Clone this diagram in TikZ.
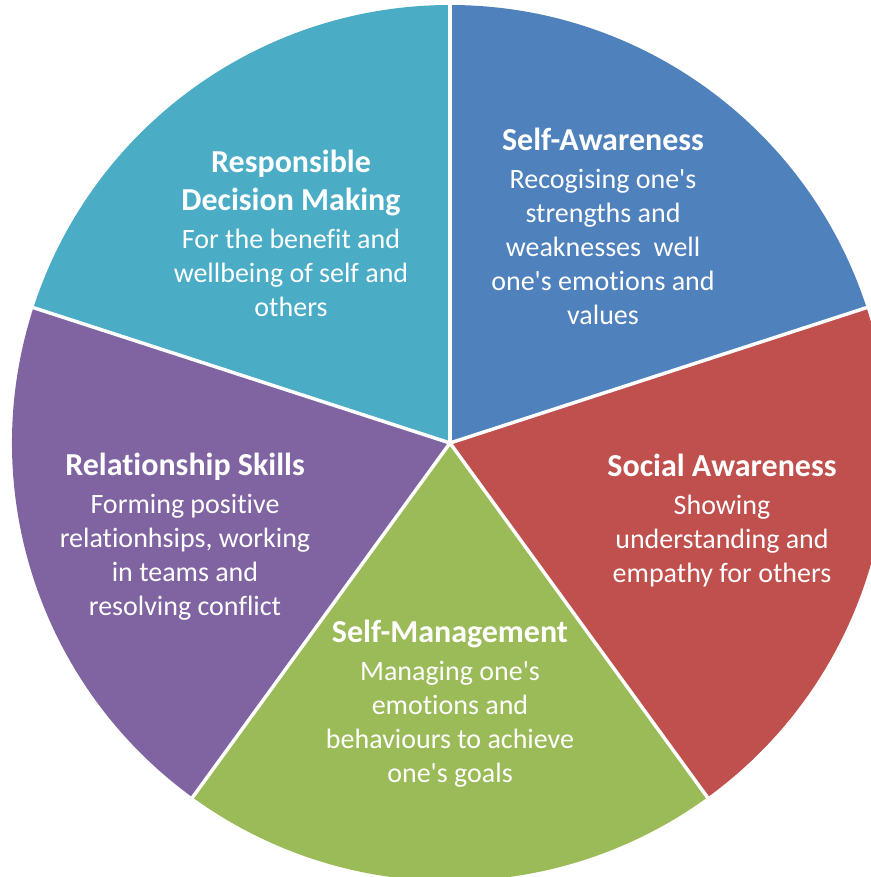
\documentclass[tikz,border=0pt]{standalone}
\usepackage{fontspec}
\setmainfont{Carlito}[Ligatures={NoCommon,TeXOff}]
\definecolor{cblue}{HTML}{4F81BD}
\definecolor{cred}{HTML}{C0504D}
\definecolor{cgreen}{HTML}{9BBB59}
\definecolor{cpurple}{HTML}{8064A2}
\definecolor{cteal}{HTML}{4BACC6}
\begin{document}
\begin{tikzpicture}[x=0.75pt,y=0.75pt,
  sep/.style={draw=white,line width=2.6pt},
  lbl/.style={text=white,align=center,inner sep=0pt,font=\fontsize{21}{25.5}\selectfont}]
\newcommand\ttlfont{\bfseries\fontsize{24}{28}\selectfont}
\useasboundingbox (0,0) rectangle (870,-877);
\coordinate (c) at (450,-443);
\def\R{438}
\fill[cblue]   (c) -- ++(90:\R)  arc[start angle=90, end angle=18, radius=\R] -- cycle;
\fill[cred]    (c) -- ++(18:\R)  arc[start angle=18, end angle=-54, radius=\R] -- cycle;
\fill[cgreen]  (c) -- ++(-54:\R) arc[start angle=-54, end angle=-126, radius=\R] -- cycle;
\fill[cpurple] (c) -- ++(-126:\R) arc[start angle=-126, end angle=-198, radius=\R] -- cycle;
\fill[cteal]   (c) -- ++(162:\R) arc[start angle=162, end angle=90, radius=\R] -- cycle;
\path (c) ++(90:443) coordinate (p1);
\path (c) ++(18:443) coordinate (p2);
\path (c) ++(-54:443) coordinate (p3);
\path (c) ++(-126:443) coordinate (p4);
\path (c) ++(162:443) coordinate (p5);
\draw[sep] (c) -- (p1);
\draw[sep] (c) -- (p2);
\draw[sep] (c) -- (p3);
\draw[sep] (c) -- (p4);
\draw[sep] (c) -- (p5);
\node[lbl] (sa) at (603,-226) {{\ttlfont Self-Awareness}\\[3pt]
Recogising one's\\ strengths and\\ weaknesses\ \ well\\ one's emotions and\\ values};
\node[lbl] (so) at (722,-521) {{\ttlfont Social Awareness}\\[3pt]
Showing\\ understanding and\\ empathy for others};
\node[lbl] (sm) at (450,-704) {{\ttlfont Self-Management}\\[3pt]
Managing one's\\ emotions and\\ behaviours to achieve\\ one's goals};
\node[lbl] (rs) at (185,-537) {{\ttlfont Relationship Skills}\\[3pt]
Forming positive\\ relationhsips, working\\ in teams and\\ resolving conflict};
\node[lbl] (rd) at (291,-233) {{\ttlfont Responsible}\\[3pt]
{\ttlfont Decision Making}\\[3pt]
For the benefit and\\ wellbeing of self and\\ others};
\end{tikzpicture}
\end{document}
